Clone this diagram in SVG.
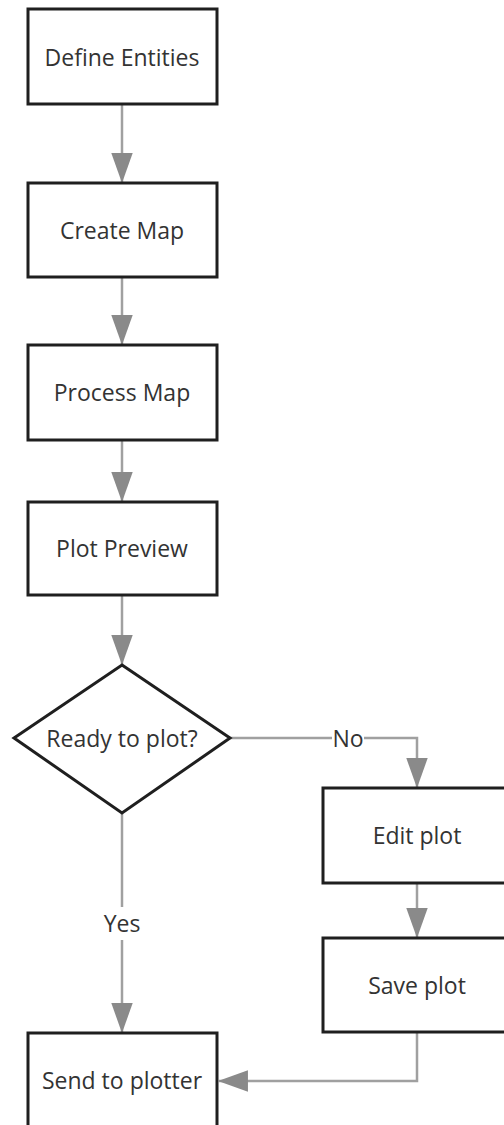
<svg xmlns="http://www.w3.org/2000/svg" width="504" height="1125" viewBox="0 0 504 1125">
<style>
.box{fill:#fff;stroke:#1f1f1f;stroke-width:3}
.lbl{font-family:"Open Sans","Liberation Sans",sans-serif;font-size:23px;fill:#333;text-anchor:middle;dominant-baseline:central}
.con{fill:none;stroke:#a0a0a0;stroke-width:2.5}
.bg{fill:#fff}
</style>
<defs>
<marker id="ah" markerUnits="userSpaceOnUse" markerWidth="30" markerHeight="22" viewBox="0 0 28 20" refX="27" refY="10" orient="auto">
<path d="M0,0 L28,10 L0,20 Z" fill="#8a8a8a"/>
</marker>
</defs>
<rect width="504" height="1125" fill="#fff"/>
<g id="connectors">
<path class="con" d="M122,104 V182" marker-end="url(#ah)"/>
<path class="con" d="M122,277 V344" marker-end="url(#ah)"/>
<path class="con" d="M122,440 V501" marker-end="url(#ah)"/>
<path class="con" d="M122,595 V664" marker-end="url(#ah)"/>
<path class="con" d="M230,738 H417 V787" marker-end="url(#ah)"/>
<path class="con" d="M122,813 V1032" marker-end="url(#ah)"/>
<path class="con" d="M417,883 V937" marker-end="url(#ah)"/>
<path class="con" d="M417,1032 V1081 H219" marker-end="url(#ah)"/>
<rect class="bg" x="332" y="726" width="32" height="24"/>
<text class="lbl" x="348" y="738">No</text>
<rect class="bg" x="100" y="907" width="44" height="33"/>
<text class="lbl" x="122" y="923">Yes</text>
</g>
<g id="define-entities">
<rect class="box" x="28" y="9" width="189" height="95"/>
<text class="lbl" x="122" y="57">Define Entities</text>
</g>
<g id="create-map">
<rect class="box" x="28" y="183" width="189" height="94"/>
<text class="lbl" x="122" y="230">Create Map</text>
</g>
<g id="process-map">
<rect class="box" x="28" y="345" width="189" height="95"/>
<text class="lbl" x="122" y="392">Process Map</text>
</g>
<g id="plot-preview">
<rect class="box" x="28" y="502" width="189" height="93"/>
<text class="lbl" x="122" y="548">Plot Preview</text>
</g>
<g id="ready-to-plot">
<polygon class="box" stroke-width="2.5" points="122,665 230,738 122,813 14,738"/>
<text class="lbl" x="122" y="738">Ready to plot?</text>
</g>
<g id="edit-plot">
<rect class="box" x="323" y="788" width="189" height="95"/>
<text class="lbl" x="417" y="835">Edit plot</text>
</g>
<g id="save-plot">
<rect class="box" x="323" y="938" width="189" height="94"/>
<text class="lbl" x="417" y="985">Save plot</text>
</g>
<g id="send-to-plotter">
<rect class="box" x="28" y="1033" width="189" height="95"/>
<text class="lbl" x="122" y="1080">Send to plotter</text>
</g>
</svg>
